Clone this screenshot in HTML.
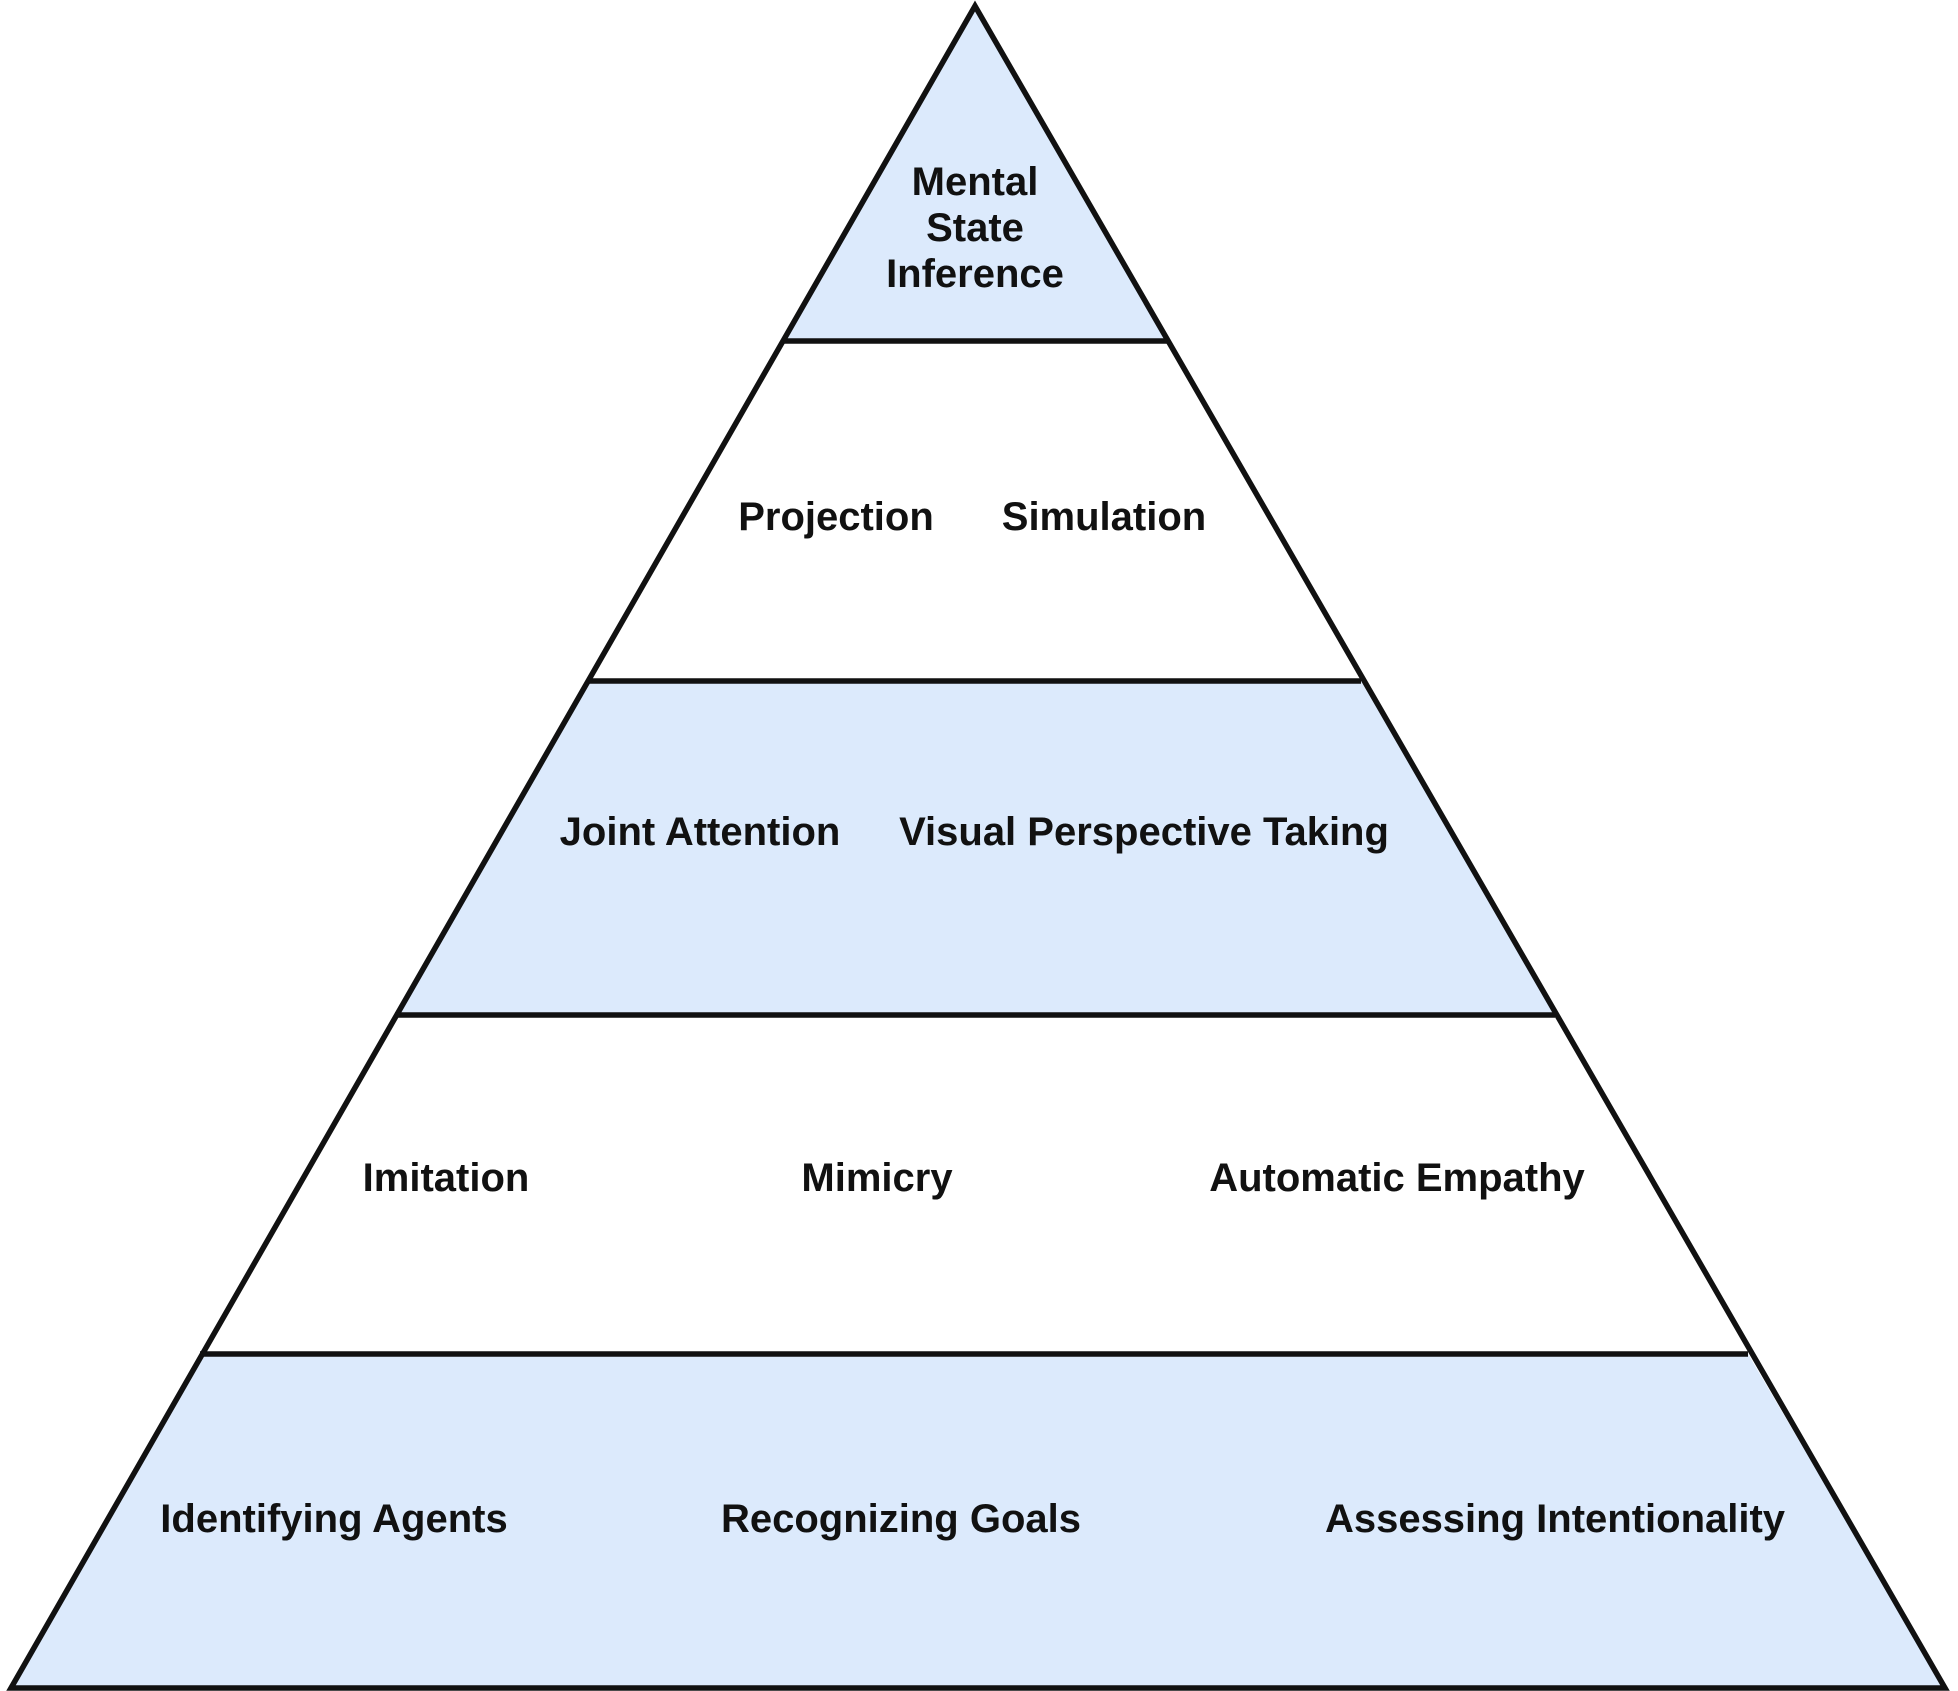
<!DOCTYPE html>
<html><head><meta charset="utf-8"><style>html,body{margin:0;padding:0;background:#fff}svg{display:block}text{font-family:"Liberation Sans",sans-serif;font-weight:bold;font-size:40px;fill:#111;text-anchor:middle;dominant-baseline:central}</style></head>
<body>
<svg width="1958" height="1691" viewBox="0 0 1958 1691" xmlns="http://www.w3.org/2000/svg">
<g transform="translate(-4,0)">
<polygon points="979,6 787,341 1171,341" fill="#dceafc"/>
<polygon points="593,681 1365,681 1559,1015 399,1015" fill="#dceafc"/>
<polygon points="204,1354 1752,1354 1949,1688 15,1688" fill="#dceafc"/>
<g stroke="#111" stroke-width="5.5" fill="none" stroke-linejoin="miter">
<polygon points="979,6 1949,1688 15,1688"/>
<line x1="787" y1="341" x2="1171" y2="341"/>
<line x1="593" y1="681" x2="1365" y2="681"/>
<line x1="399" y1="1015" x2="1559" y2="1015"/>
<line x1="204" y1="1354" x2="1752" y2="1354"/>
</g>
</g>
<g transform="translate(-4,-4)">
<text x="979" y="186">Mental</text>
<text x="979" y="232">State</text>
<text x="979" y="278">Inference</text>
<text x="840" y="521">Projection</text>
<text x="1108" y="521">Simulation</text>
<text x="704" y="836">Joint Attention</text>
<text x="1148" y="836">Visual Perspective Taking</text>
<text x="450" y="1182">Imitation</text>
<text x="881" y="1182">Mimicry</text>
<text x="1401" y="1182">Automatic Empathy</text>
<text x="338" y="1523">Identifying Agents</text>
<text x="905" y="1523">Recognizing Goals</text>
<text x="1559" y="1523">Assessing Intentionality</text>
</g>
</svg>
</body></html>
